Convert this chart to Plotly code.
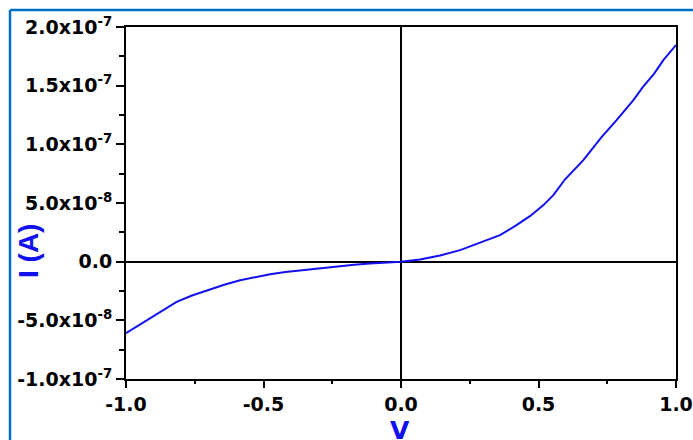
import plotly.graph_objects as go

# I-V sweep
voltage = [-1.0, -0.973, -0.94, -0.90, -0.86, -0.816, -0.76, -0.695, -0.64, -0.585, -0.53, -0.476,
           -0.42, -0.355, -0.29, -0.234, -0.17, -0.113, -0.05,
           0.0, 0.069, 0.142, 0.215, 0.287, 0.36, 0.42, 0.47, 0.517, 0.554, 0.596, 0.663,
           0.73, 0.784, 0.845, 0.88, 0.92, 0.954, 1.0]
current = [-6.1e-8, -5.7e-8, -5.2e-8, -4.65e-8, -4.05e-8, -3.43e-8, -2.88e-8, -2.37e-8, -1.95e-8, -1.58e-8,
           -1.3e-8, -1.07e-8, -8.9e-9, -7.2e-9, -5.4e-9, -3.8e-9, -2.6e-9, -1.5e-9, -6e-10,
           0.0, 1.9e-9, 5.3e-9, 9.8e-9, 1.6e-8, 2.26e-8, 3.11e-8, 3.9e-8, 4.8e-8, 5.67e-8, 7.0e-8, 8.65e-8,
           1.064e-7, 1.206e-7, 1.377e-7, 1.49e-7, 1.6e-7, 1.718e-7, 1.846e-7]

x_ticks = [-1.0, -0.5, 0.0, 0.5, 1.0]
x_labels = ["-1.0", "-0.5", "0.0", "0.5", "1.0"]
y_ticks = [2e-7, 1.5e-7, 1e-7, 5e-8, 0, -5e-8, -1e-7]
y_labels = ["2.0x10<sup>-7</sup>", "1.5x10<sup>-7</sup>", "1.0x10<sup>-7</sup>",
            "5.0x10<sup>-8</sup>", "0.0", "-5.0x10<sup>-8</sup>", "-1.0x10<sup>-7</sup>"]

TICK_FONT = "DejaVu Sans"
BLUE = "#0070C0"
LINE_BLUE = "#1010F0"

fig = go.Figure(go.Scatter(x=voltage, y=current, mode="lines",
                           line=dict(color=LINE_BLUE, width=2), showlegend=False))

axis_common = dict(showline=True, linecolor="black", linewidth=2, mirror=True,
                   ticks="outside", tickcolor="black", tickwidth=2,
                   showgrid=False, zeroline=True, zerolinecolor="black", zerolinewidth=1.5,
                   automargin=False,
                   tickfont=dict(family=TICK_FONT, size=19, color="black", weight="bold"))

fig.update_xaxes(range=[-1, 1], tickvals=x_ticks, ticktext=x_labels, ticklen=7,
                 minor=dict(dtick=0.25, tick0=0, ticklen=3, ticks="outside",
                            tickcolor="black", tickwidth=2, showgrid=False),
                 **axis_common)
fig.update_yaxes(range=[-1e-7, 2e-7], tickvals=y_ticks, ticktext=y_labels, ticklen=8,
                 minor=dict(dtick=2.5e-8, tick0=0, ticklen=5, ticks="outside",
                            tickcolor="black", tickwidth=2, showgrid=False),
                 **axis_common)

# pixel -> paper helpers for the outer frame and titles (plot area 126..676 x 27..379)
def px(x):
    return (x - 126) / 550

def py(y):
    return (379 - y) / 352

fig.update_layout(
    width=693, height=440,
    margin=dict(l=126, r=17, t=27, b=61),
    paper_bgcolor="white", plot_bgcolor="white",
    shapes=[
        dict(type="line", xref="paper", yref="paper", x0=px(10), x1=px(700), y0=py(10), y1=py(10),
             line=dict(color=BLUE, width=2.5)),
        dict(type="line", xref="paper", yref="paper", x0=px(10), x1=px(10), y0=py(10), y1=py(445),
             line=dict(color=BLUE, width=2.5)),
    ],
    annotations=[
        dict(text="I (A)", xref="paper", yref="paper", x=px(28), y=py(251), showarrow=False,
             xanchor="center", yanchor="middle", textangle=-90,
             font=dict(family="Liberation Sans, Arial", size=28, color=LINE_BLUE, weight="bold")),
        dict(text="V", xref="paper", yref="paper", x=px(400), y=py(430), showarrow=False,
             xanchor="center", yanchor="middle",
             font=dict(family=TICK_FONT, size=25, color=LINE_BLUE, weight="bold")),
    ],
)

fig.write_html("out.html", config={"displayModeBar": False},
               post_script="document.body.style.margin='0';")
